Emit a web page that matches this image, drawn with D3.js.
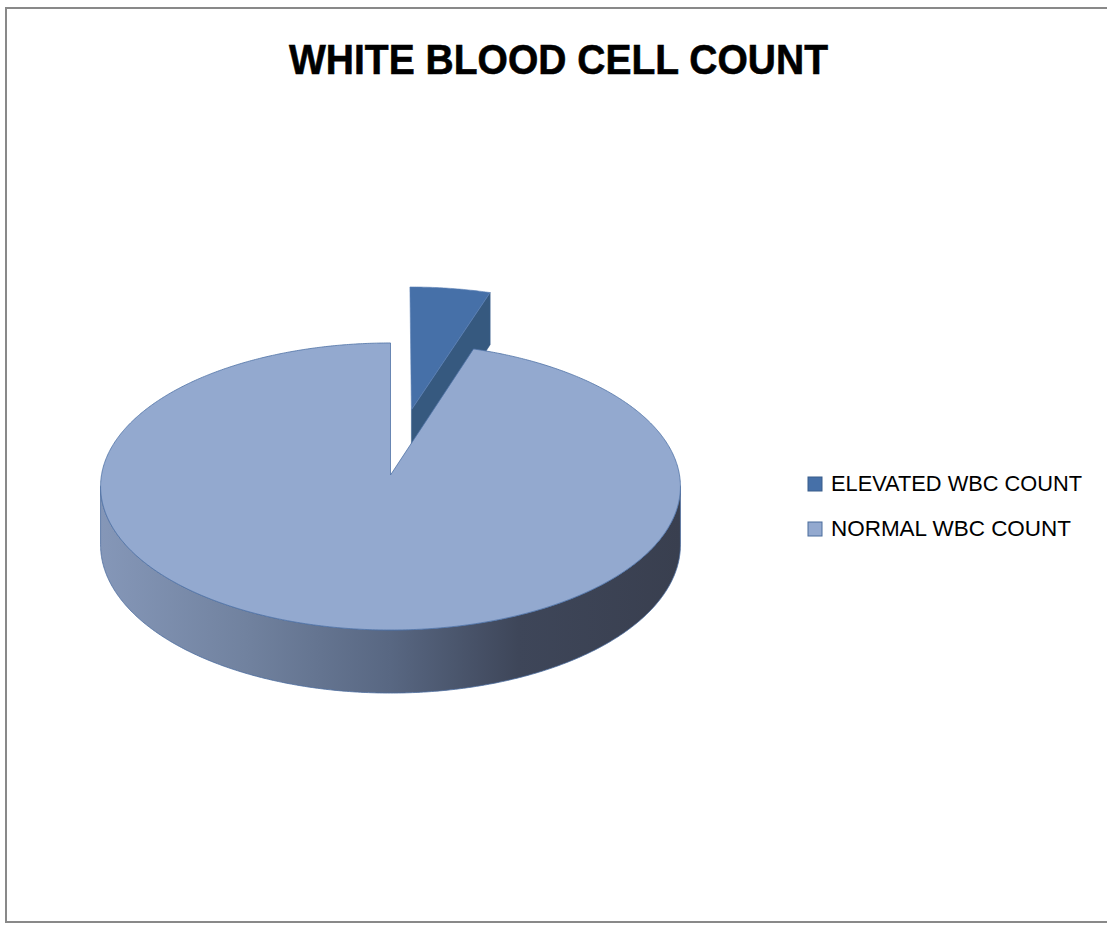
<!DOCTYPE html>
<html>
<head>
<meta charset="utf-8">
<script src="https://cdn.jsdelivr.net/npm/d3@7/dist/d3.min.js"></script>
<style>
  html, body { margin: 0; padding: 0; background: #fff; }
  svg { display: block; }
</style>
</head>
<body>
<svg id="chart" width="1107" height="926"></svg>
<script>
// Chart data
const title = "WHITE BLOOD CELL COUNT";
const categories = ["ELEVATED WBC COUNT", "NORMAL WBC COUNT"];
const values = [5, 95];
const exploded = [true, false];

// Styling
const topColors = ["#4670a8", "#93a9cf"];
const faceColors = ["#36597f", "#5a6985"];
const legendBorders = ["#385d8a", "#4a6c9c"];

const svg = d3.select("#chart");
const W = 1107, H = 926;

// Frame
svg.append("rect")
  .attr("x", 6).attr("y", 8)
  .attr("width", W + 10).attr("height", 914)
  .attr("fill", "#fff")
  .attr("stroke", "#898989").attr("stroke-width", 2);

// Title
svg.append("text")
  .attr("x", 558.5).attr("y", 74)
  .attr("text-anchor", "middle")
  .attr("font-family", "'Liberation Sans Narrow', 'Liberation Sans', Arial, sans-serif")
  .attr("font-weight", "bold")
  .attr("font-size", 43)
  .attr("textLength", 539)
  .attr("lengthAdjust", "spacingAndGlyphs")
  .attr("fill", "#000")
  .attr("stroke", "#000").attr("stroke-width", 0.6)
  .text(title);

// Pseudo-perspective projection of a tilted disc.
// X: right, Z: depth (positive = away), h: drop below the top face.
const cx = 390.5, cy = 475, R = 289, A = 142.6, persp = 0.08, depth = 58;
function proj(X, Z, h) {
  const s = 1 + persp * Z;
  return [cx + R * X / s, cy + (-A * Z + h) / s];
}
function rim(phi, ox, oz, h) {
  return proj(Math.sin(phi) + ox, Math.cos(phi) + oz, h);
}
function arcPoints(a0, a1, ox, oz, h) {
  const n = Math.max(2, Math.ceil(Math.abs(a1 - a0) / (Math.PI / 360)));
  const pts = [];
  for (let i = 0; i <= n; i++) pts.push(rim(a0 + (a1 - a0) * i / n, ox, oz, h));
  return pts;
}
const line = d3.line();

const pie = d3.pie().sort(null).startAngle(0).endAngle(2 * Math.PI);
const arcs = pie(values);
const explodeDist = 0.48;

// Side-wall gradient (light on the left, dark on the right)
const defs = svg.append("defs");
const grad = defs.append("linearGradient")
  .attr("id", "sideGrad")
  .attr("gradientUnits", "userSpaceOnUse")
  .attr("x1", 100).attr("y1", 0).attr("x2", 681).attr("y2", 0);
[[0, "#8597b8"], [0.25, "#71829f"], [0.5, "#586782"], [0.72, "#3e4659"], [1, "#393f4f"]]
  .forEach(([o, c]) => grad.append("stop").attr("offset", o).attr("stop-color", c));

const g = svg.append("g");

// Draw exploded slices first (they sit behind the main body)
arcs.forEach((a, i) => {
  if (!exploded[i]) return;
  const mid = (a.startAngle + a.endAngle) / 2;
  const ox = explodeDist * Math.sin(mid), oz = explodeDist * Math.cos(mid);
  // radial face at the end angle (faces the viewer)
  const c0 = proj(ox, oz, 0), c1 = proj(ox, oz, depth);
  const r0 = rim(a.endAngle, ox, oz, 0), r1 = rim(a.endAngle, ox, oz, depth);
  g.append("path")
    .attr("d", line([c0, r0, r1, c1]) + "Z")
    .attr("fill", faceColors[i])
    .attr("stroke", "#3a5f8f").attr("stroke-width", 0.6);
  // top face
  const pts = [c0].concat(arcPoints(a.startAngle, a.endAngle, ox, oz, 0));
  g.append("path")
    .attr("d", line(pts) + "Z")
    .attr("fill", topColors[i])
    .attr("stroke", "#5b80b6").attr("stroke-width", 0.6);
});

arcs.forEach((a, i) => {
  if (exploded[i]) return;
  const ox = 0, oz = 0;
  // front wall: visible between the two silhouette tangents
  const tA = Math.acos(-persp), tB = 2 * Math.PI - Math.acos(-persp);
  const s0 = Math.max(a.startAngle, tA), s1 = Math.min(a.endAngle, tB);
  if (s1 > s0) {
    const topArc = arcPoints(s0, s1, ox, oz, 0);
    const botArc = arcPoints(s1, s0, ox, oz, depth);
    g.append("path")
      .attr("d", line(topArc.concat(botArc)) + "Z")
      .attr("fill", "url(#sideGrad)")
      .attr("stroke", "#4b6c9e").attr("stroke-width", 0.8);
  }
  // top face
  const pts = [proj(ox, oz, 0)].concat(arcPoints(a.startAngle, a.endAngle, ox, oz, 0));
  g.append("path")
    .attr("d", line(pts) + "Z")
    .attr("fill", topColors[i])
    .attr("stroke", "#4f72a6").attr("stroke-width", 0.8);
});

// Legend
const legend = svg.append("g");
const legendY = [484, 529];
const legendLen = [251, 240];
categories.forEach((name, i) => {
  legend.append("rect")
    .attr("x", 808).attr("y", legendY[i] - 7)
    .attr("width", 14).attr("height", 14)
    .attr("fill", topColors[i])
    .attr("stroke", legendBorders[i]).attr("stroke-width", 1);
  legend.append("text")
    .attr("x", 831).attr("y", legendY[i] + 7)
    .attr("font-family", "'Liberation Sans', Arial, sans-serif")
    .attr("font-size", 21.5)
    .attr("textLength", legendLen[i])
    .attr("lengthAdjust", "spacingAndGlyphs")
    .attr("fill", "#000")
    .text(name);
});
</script>
</body>
</html>
